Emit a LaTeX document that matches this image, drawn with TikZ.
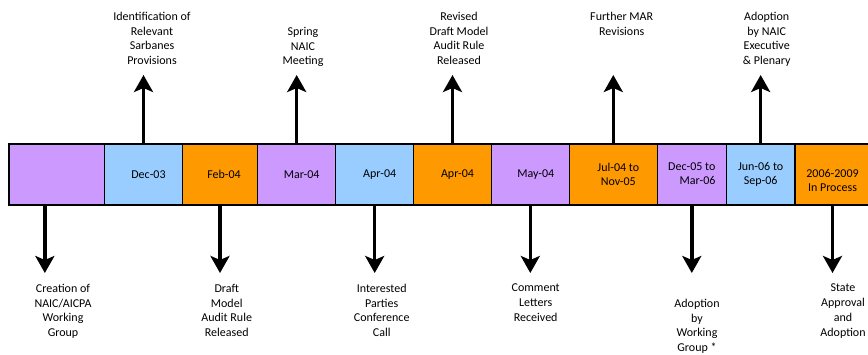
\documentclass[tikz,border=0pt]{standalone}
\usepackage{fontspec}
\setmainfont{Carlito}
\usetikzlibrary{arrows.meta, positioning}
\definecolor{lilac}{HTML}{CC99FF}
\definecolor{sky}{HTML}{99CCFF}
\definecolor{amber}{HTML}{FF9900}
\tikzstyle{cell} = [rectangle, draw, line width=1.2pt, minimum height=61pt, inner sep=0pt, outer sep=0pt, align=center]
\tikzstyle{note} = [inner sep=0pt, align=center]
\tikzstyle{flow} = [draw, line width=3.5pt, -{Stealth[length=17pt, width=19pt, inset=4pt]}]

\begin{document}
\begin{tikzpicture}[x=1pt, y=1pt, font=\fontsize{12}{14.7}\selectfont]
            \useasboundingbox (0,0) rectangle (868,354);
            \coordinate (uptip) at (0,279);
            \coordinate (dntip) at (0,81);

            % the band of dates
            \node[cell, fill=lilac, minimum width=95.7pt, anchor=south west] (c1) at (9,149) {};
            \node[cell, fill=sky, minimum width=77.6pt, right=0pt of c1] (c2) {\hspace*{10pt}Dec-03};
            \node[cell, fill=amber, minimum width=75.4pt, right=0pt of c2] (c3) {\hspace*{8pt}Feb-04};
            \node[cell, fill=lilac, minimum width=78pt, right=0pt of c3] (c4) {\hspace*{10pt}Mar-04};
            \node[cell, fill=sky, minimum width=78pt, right=0pt of c4] (c5) {\hspace*{10pt}Apr-04};
            \node[cell, fill=amber, minimum width=77.6pt, right=0pt of c5] (c6) {\hspace*{10pt}Apr-04};
            \node[cell, fill=lilac, minimum width=78pt, right=0pt of c6] (c7) {\hspace*{11pt}May-04};
            \node[cell, fill=amber, minimum width=88pt, right=0pt of c7] (c8) {\hspace*{10pt}Jul-04 to\\\hspace*{10pt}Nov-05};
            \node[cell, fill=lilac, minimum width=69pt, right=0pt of c8] (c9) {\begin{tabular}{@{}r@{}}Dec-05 to\\Mar-06\end{tabular}};
            \node[cell, fill=sky, minimum width=68.7pt, right=0pt of c9] (c10) {Jun-06 to\\Sep-06};
            \node[cell, fill=amber, minimum width=75pt, right=0pt of c10] (c11) {\raisebox{-7pt}[\height][\depth]{\begin{tabular}{@{}c@{}}2006-2009\\In Process\end{tabular}}};

            % events above the band
            \node[note, anchor=north] (ident) at (152,342) {Identification of\\Relevant\\Sarbanes\\Provisions};
            \node[note, anchor=north] (spring) at (303,327) {Spring\\NAIC\\Meeting};
            \node[note, anchor=north] (revised) at (459,342) {Revised\\Draft Model\\Audit Rule\\Released};
            \node[note, anchor=north] (further) at (621.7,342) {Further MAR\\Revisions};
            \node[note, anchor=north] (exec) at (766.7,342) {Adoption\\by NAIC\\Executive\\\& Plenary};

            % events below the band
            \node[note, anchor=north] (creation) at (63,70) {Creation of\\NAIC/AICPA\\Working\\Group};
            \node[note, anchor=north] (draft) at (226.7,70) {Draft\\Model\\Audit Rule\\Released};
            \node[note, anchor=north] (parties) at (381.7,70) {Interested\\Parties\\Conference\\Call};
            \node[note, anchor=north] (comment) at (535.7,70) {Comment\\Letters\\Received};
            \node[note, anchor=north] (wgroup) at (697,55) {Adoption\\by\\Working\\Group *};
            \node[note, anchor=north] (state) at (843,70) {State\\Approval\\and\\Adoption};

            \draw[flow] (c2.north) -- (c2.north |- uptip);
            \draw[flow] (c4.north) -- (c4.north |- uptip);
            \draw[flow] (c6.north) -- (c6.north |- uptip);
            \draw[flow] (c8.north) -- (c8.north |- uptip);
            \draw[flow] (c10.north) -- (c10.north |- uptip);

            \draw[flow] ([xshift=-12pt]c1.south) -- ([xshift=-12pt]c1.south |- dntip);
            \draw[flow] (c3.south) -- (c3.south |- dntip);
            \draw[flow] (c5.south) -- (c5.south |- dntip);
            \draw[flow] (c7.south) -- (c7.south |- dntip);
            \draw[flow] (c9.south) -- (c9.south |- dntip);
            \draw[flow] (c11.south) -- (c11.south |- dntip);
        \end{tikzpicture}
\end{document}
